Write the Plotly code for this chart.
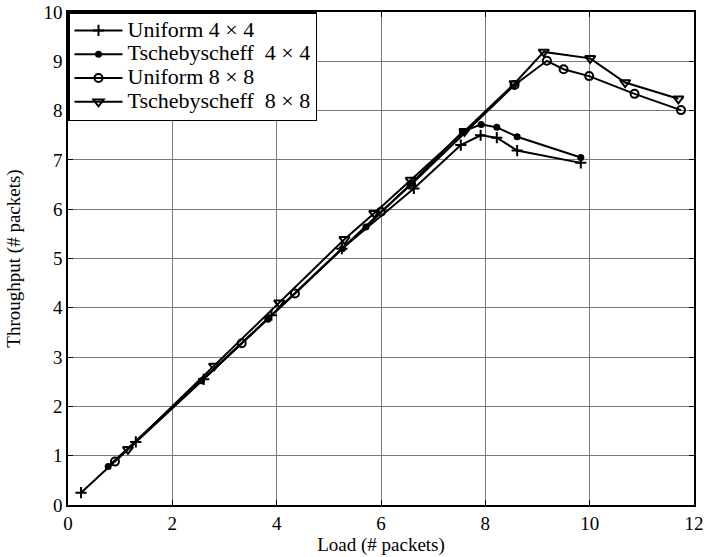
import plotly.graph_objects as go

# Uniform 4x4
u4_x = [0.25, 1.30, 2.60, 3.90, 5.25, 6.63, 7.53, 7.91, 8.22, 8.61, 9.83]
u4_y = [0.25, 1.28, 2.55, 3.85, 5.20, 6.42, 7.30, 7.50, 7.45, 7.19, 6.94]
# Tschebyscheff 4x4
t4_x = [0.77, 2.56, 3.83, 5.26, 5.71, 6.58, 7.56, 7.92, 8.22, 8.61, 9.83]
t4_y = [0.78, 2.52, 3.77, 5.20, 5.64, 6.52, 7.57, 7.72, 7.66, 7.47, 7.05]
# Uniform 8x8
u8_x = [0.90, 3.33, 4.35, 6.00, 6.58, 8.56, 9.18, 9.50, 9.99, 10.86, 11.75]
u8_y = [0.88, 3.28, 4.29, 5.95, 6.50, 8.52, 9.01, 8.84, 8.70, 8.34, 8.01]
# Tschebyscheff 8x8
t8_x = [1.15, 2.80, 4.05, 5.30, 5.87, 6.57, 7.60, 8.56, 9.12, 10.01, 10.68, 11.70]
t8_y = [1.13, 2.82, 4.10, 5.39, 5.92, 6.59, 7.58, 8.55, 9.19, 9.06, 8.57, 8.24]

names = ["Uniform 4 \u00d7 4", "Tschebyscheff\u00a0 4 \u00d7 4",
         "Uniform 8 \u00d7 8", "Tschebyscheff\u00a0 8 \u00d7 8"]

def big(t):
    return "<span style='font-size:22px'>" + t + "</span>"

fig = go.Figure()
line = dict(color="black", width=2)
fig.add_trace(go.Scatter(x=u4_x, y=u4_y, name=big(names[0]), mode="lines+markers", line=line,
                         marker=dict(symbol="cross-thin", size=8, color="black",
                                     line=dict(color="black", width=2))))
fig.add_trace(go.Scatter(x=t4_x, y=t4_y, name=big(names[1]), mode="lines+markers", line=line,
                         marker=dict(symbol="circle", size=7, color="black")))
fig.add_trace(go.Scatter(x=u8_x, y=u8_y, name=big(names[2]), mode="lines+markers", line=line,
                         marker=dict(symbol="circle-open", size=8, color="black",
                                     line=dict(color="black", width=2))))
fig.add_trace(go.Scatter(x=t8_x, y=t8_y, name=big(names[3]), mode="lines+markers", line=line,
                         marker=dict(symbol="triangle-down-open", size=9, color="black",
                                     line=dict(color="black", width=2))))

axis_common = dict(showgrid=True, gridcolor="#7a7a7a", gridwidth=1, zeroline=False,
                   showline=True, linecolor="black", linewidth=1.5, mirror="ticks",
                   ticks="inside", ticklen=5, tickcolor="black", automargin=False,
                   tickfont=dict(family="Liberation Serif", size=19, color="black"))

fig.update_layout(
    width=705, height=557,
    margin=dict(l=68, r=11, t=12, b=52),
    paper_bgcolor="white", plot_bgcolor="white",
    font=dict(family="Liberation Serif", size=19, color="black"),
    xaxis=dict(range=[0, 12], dtick=2, title=dict(text="Load (# packets)", standoff=2,
               font=dict(size=19)), **axis_common),
    yaxis=dict(range=[0, 10], dtick=1, title=dict(text="Throughput (# packets)", standoff=18,
               font=dict(size=19)), **axis_common),
    legend=dict(x=0, y=1, xanchor="left", yanchor="top", bgcolor="white",
                bordercolor="black", borderwidth=1.5,
                font=dict(family="Liberation Serif", size=16, color="black"),
                tracegroupgap=0, itemwidth=48),
    showlegend=True,
)

fig.write_html("out.html", config={"displayModeBar": False},
               post_script="document.body.style.margin='0px';")
